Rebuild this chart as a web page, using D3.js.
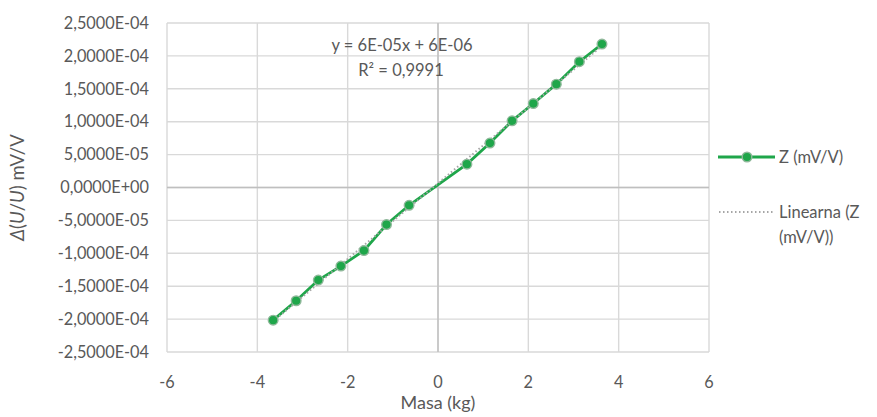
<!DOCTYPE html>
<html>
<head>
<meta charset="utf-8">
<script src="https://cdn.jsdelivr.net/npm/d3@7/dist/d3.min.js"></script>
<style>
  html, body { margin: 0; padding: 0; background: #fff; }
  svg text { font-family: "Lato", "Open Sans", sans-serif; fill: #595959; }
</style>
</head>
<body>
<svg id="chart" width="877" height="417"></svg>
<script>
// Data
const masa = [-3.65, -3.14, -2.65, -2.15, -1.64, -1.14, -0.64, 0.64, 1.15, 1.64, 2.11, 2.62, 3.13, 3.63];
const zValues = [-2.016e-4, -1.721e-4, -1.407e-4, -1.194e-4, -0.959e-4, -0.563e-4, -0.270e-4,
                 0.355e-4, 0.675e-4, 1.013e-4, 1.276e-4, 1.570e-4, 1.912e-4, 2.179e-4];
const xTicks = [-6, -4, -2, 0, 2, 4, 6];
const yTicks = [-2.5e-4, -2e-4, -1.5e-4, -1e-4, -5e-5, 0, 5e-5, 1e-4, 1.5e-4, 2e-4, 2.5e-4];
const yTickLabels = ["-2,5000E-04", "-2,0000E-04", "-1,5000E-04", "-1,0000E-04", "-5,0000E-05",
                     "0,0000E+00", "5,0000E-05", "1,0000E-04", "1,5000E-04", "2,0000E-04", "2,5000E-04"];
const equationText = "y = 6E-05x + 6E-06";
const r2Text = "R² = 0,9991";
const seriesName = "Z (mV/V)";
const trendNameLines = ["Linearna (Z", "(mV/V))"];

const svg = d3.select("#chart");
const pL = 167, pR = 709, pT = 23, pB = 352;
const x = d3.scaleLinear().domain([-6, 6]).range([pL, pR]);
const y = d3.scaleLinear().domain([-2.5e-4, 2.5e-4]).range([pB, pT]);
const green = "#1fa64a";

// Gridlines
svg.append("g").selectAll("line").data(yTicks).join("line")
  .attr("x1", pL).attr("x2", pR)
  .attr("y1", d => y(d)).attr("y2", d => y(d))
  .attr("stroke", "#d9d9d9").attr("stroke-width", 1.4);
svg.append("g").selectAll("line").data(xTicks).join("line")
  .attr("y1", pT).attr("y2", pB)
  .attr("x1", d => x(d)).attr("x2", d => x(d))
  .attr("stroke", "#d9d9d9").attr("stroke-width", 1.4);
// Axis lines crossing at zero
svg.append("line").attr("x1", pL).attr("x2", pR).attr("y1", y(0)).attr("y2", y(0))
  .attr("stroke", "#bfbfbf").attr("stroke-width", 1.4);
svg.append("line").attr("y1", pT).attr("y2", pB).attr("x1", x(0)).attr("x2", x(0))
  .attr("stroke", "#bfbfbf").attr("stroke-width", 1.4);

// Y tick labels
svg.append("g").selectAll("text").data(yTicks).join("text")
  .attr("x", 149).attr("y", d => y(d)).attr("dy", "0.35em")
  .attr("text-anchor", "end").attr("font-size", 16.3)
  .text((d, i) => yTickLabels[i]);
// X tick labels
svg.append("g").selectAll("text").data(xTicks).join("text")
  .attr("x", d => x(d)).attr("y", 382).attr("dy", "0.35em")
  .attr("text-anchor", "middle").attr("font-size", 16.3)
  .text(d => d);

// Axis titles
svg.append("text").attr("x", x(0)).attr("y", 403).attr("dy", "0.35em")
  .attr("text-anchor", "middle").attr("font-size", 18).text("Masa (kg)");
const yt = svg.append("text")
  .attr("transform", `translate(18,${y(0)}) rotate(-90)`)
  .attr("dy", "0.35em").attr("text-anchor", "middle").attr("font-size", 18.5);
yt.append("tspan").attr("font-style", "italic").text("Δ");
yt.append("tspan").text("(");
yt.append("tspan").attr("font-style", "italic").text("U");
yt.append("tspan").text("/");
yt.append("tspan").attr("font-style", "italic").text("U");
yt.append("tspan").text(") mV/V");

// Linear trendline (least squares from the data)
const mx = d3.mean(masa), my = d3.mean(zValues);
const slope = d3.sum(masa, (d, i) => (d - mx) * (zValues[i] - my)) / d3.sum(masa, d => (d - mx) ** 2);
const intercept = my - slope * mx;
const xr = d3.extent(masa);

// Series line
const pts = masa.map((d, i) => [d, zValues[i]]);
svg.append("path").datum(pts)
  .attr("d", d3.line().x(d => x(d[0])).y(d => y(d[1])))
  .attr("fill", "none").attr("stroke", green).attr("stroke-width", 2.8);

svg.append("line")
  .attr("x1", x(xr[0])).attr("y1", y(slope * xr[0] + intercept))
  .attr("x2", x(xr[1])).attr("y2", y(slope * xr[1] + intercept))
  .attr("stroke", "#a6a6a6").attr("stroke-width", 2).attr("stroke-dasharray", "1.5,2.5");

// Markers
svg.append("g").selectAll("circle").data(pts).join("circle")
  .attr("cx", d => x(d[0])).attr("cy", d => y(d[1])).attr("r", 4.8)
  .attr("fill", green).attr("stroke", "#8fb89a").attr("stroke-width", 1.4);

// Equation
svg.append("text").attr("x", 402).attr("y", 45).attr("dy", "0.35em")
  .attr("text-anchor", "middle").attr("font-size", 16.5).text(equationText);
svg.append("text").attr("x", 401).attr("y", 70).attr("dy", "0.35em")
  .attr("text-anchor", "middle").attr("font-size", 16.5).text(r2Text);

// Legend
const lg = svg.append("g");
lg.append("line").attr("x1", 718).attr("x2", 775).attr("y1", 157).attr("y2", 157)
  .attr("stroke", green).attr("stroke-width", 2.8);
lg.append("circle").attr("cx", 747).attr("cy", 157).attr("r", 4.8)
  .attr("fill", green).attr("stroke", "#8fb89a").attr("stroke-width", 1.4);
lg.append("text").attr("x", 779).attr("y", 157).attr("dy", "0.35em")
  .attr("font-size", 16.5).text(seriesName);
lg.append("line").attr("x1", 719).attr("x2", 773).attr("y1", 212).attr("y2", 212)
  .attr("stroke", "#a6a6a6").attr("stroke-width", 2).attr("stroke-dasharray", "1.5,2.5");
lg.selectAll("text.t").data(trendNameLines).join("text").attr("class", "t")
  .attr("x", 779).attr("y", (d, i) => 212 + i * 25).attr("dy", "0.35em")
  .attr("font-size", 16.5).text(d => d);
</script>
</body>
</html>
